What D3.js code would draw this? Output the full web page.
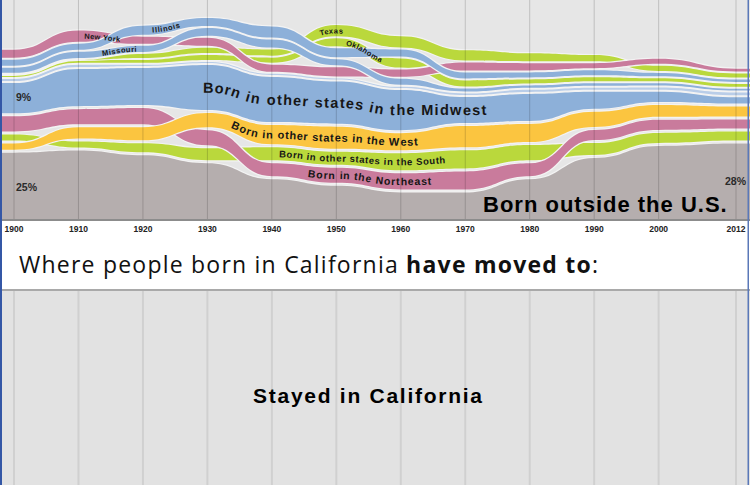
<!DOCTYPE html>
<html>
<head>
<meta charset="utf-8">
<script src="https://cdn.jsdelivr.net/npm/d3@7"></script>
<style>
body{margin:0;background:#fff;}
svg{display:block;}
</style>
</head>
<body>
<div id="chart"></div>
<script>
var years=[1900,1910,1920,1930,1940,1950,1960,1970,1980,1990,2000,2012];

// share of California residents (%) by place of birth
var foreignBorn=[25,25.8,24,21,15,12.5,10,10,15,23,27.5,28.4];
var westBorn=[2.3,4.2,4.9,5.3,7.2,8.3,6.4,8,6.8,5.7,4.5,3.8];
var southBorn=[2.3,2.3,3.4,4.5,4.9,4.9,6.4,6.8,5.7,4.5,3.8,3.4];
var northeastBorn=[5.7,5.7,6.1,5.7,4.9,5.7,6.1,6.8,4.9,3.8,3.8,3.4];
var midwestBorn=[11.4,14,14,17,17,15.9,15.2,9.8,10.2,6.4,3.8,2.3];
var newYorkBorn=[3,4.2,2.7,3,2.7,3.4,2.7,3,2.7,1.9,1.9,1.1];
var illinoisBorn=[2.3,2.3,3.4,3,4.2,3.4,2.7,2.3,1.9,1.9,1.3,0.9];
var missouriBorn=[1.9,2.3,2.3,3,3,2.3,2.3,1.1,0.9,0.9,0.8,0.6];
var texasBorn=[0,0,1.5,1.9,2.3,4.2,4.2,3.8,3,2.3,1.9,1.5];
var oklahomaBorn=[0.8,1.1,1.1,1.9,1.9,3,3.4,2.3,1.5,1.5,1.1,1.1];
var iowaBorn=[0.8,0.8,0.4,0.4,0.4,0.4,0.4,0.6,0.8,0.8,0.9,1.1];

// stacking order, bottom to top, for each year
var stackOrder=[
  ["foreign","west","south","northeast","midwest","iowa","oklahoma","texas","missouri","illinois","newYork"],
  ["foreign","south","west","northeast","midwest","iowa","oklahoma","texas","missouri","illinois","newYork"],
  ["foreign","south","west","northeast","midwest","iowa","oklahoma","texas","missouri","newYork","illinois"],
  ["foreign","south","northeast","west","midwest","iowa","oklahoma","texas","newYork","missouri","illinois"],
  ["foreign","northeast","south","west","midwest","iowa","newYork","oklahoma","texas","missouri","illinois"],
  ["foreign","northeast","south","west","midwest","iowa","newYork","missouri","illinois","oklahoma","texas"],
  ["foreign","northeast","south","west","midwest","iowa","missouri","newYork","oklahoma","illinois","texas"],
  ["foreign","northeast","south","west","midwest","iowa","missouri","oklahoma","illinois","newYork","texas"],
  ["foreign","northeast","south","west","midwest","iowa","missouri","oklahoma","illinois","newYork","texas"],
  ["foreign","south","northeast","west","midwest","iowa","missouri","oklahoma","illinois","newYork","texas"],
  ["foreign","south","northeast","west","midwest","iowa","missouri","oklahoma","illinois","texas","newYork"],
  ["foreign","south","northeast","west","midwest","iowa","missouri","oklahoma","illinois","texas","newYork"]
];

// where people born in California live now (%)
var stayedYears=[1900,2012];
var stayedShare=[91,75];

var seriesValues={foreign:foreignBorn,west:westBorn,south:southBorn,northeast:northeastBorn,
  midwest:midwestBorn,newYork:newYorkBorn,illinois:illinoisBorn,missouri:missouriBorn,
  texas:texasBorn,oklahoma:oklahomaBorn,iowa:iowaBorn};
var stateKeys=["newYork","illinois","missouri","texas","oklahoma","iowa"];
var drawOrder=["foreign","south","northeast","west","midwest","iowa","oklahoma","texas","newYork","missouri","illinois"];
var colors={foreign:"#b5aeae",west:"#fbc540",south:"#bad83c",northeast:"#c97b9c",midwest:"#8db0d9",
  newYork:"#c97b9c",illinois:"#8db0d9",missouri:"#8db0d9",texas:"#bad83c",oklahoma:"#bad83c",iowa:"#b9cde8"};

var w=750,h=485;
var topH=219;
var svg=d3.select("#chart").append("svg").attr("width",w).attr("height",h)
  .style("font-family","'Liberation Sans',Arial,sans-serif");

var xScale=d3.scaleLinear().domain([1900,2012]).range([14,736]);
var yScale=d3.scaleLinear().domain([0,82.5]).range([topH,0]);
var pxPerPct=topH/82.5;

//compute stacked positions
var pos={};
Object.keys(seriesValues).forEach(function(k){pos[k]=[];});
years.forEach(function(yr,i){
  var cum=0;
  stackOrder[i].forEach(function(k){
    var v=seriesValues[k][i];
    if(cum>0 && v>0) cum+=(stateKeys.indexOf(k)>=0?2:3)/pxPerPct;
    pos[k][i]=[cum,cum+v];
    cum+=v;
  });
});

function ribbonPoints(k){
  var pts=years.map(function(yr,i){return {x:xScale(yr),y0:yScale(pos[k][i][0]),y1:yScale(pos[k][i][1])};});
  pts.unshift({x:0,y0:pts[0].y0,y1:pts[0].y1});
  pts.push({x:w,y0:pts[pts.length-1].y0,y1:pts[pts.length-1].y1});
  return pts;
}

var defs=svg.append("defs");
defs.append("clipPath").attr("id","topClip").append("rect").attr("x",0).attr("y",0).attr("width",w).attr("height",topH);

//top panel
svg.append("rect").attr("x",0).attr("y",0).attr("width",w).attr("height",topH).attr("fill","#e6e6e6");

var area=d3.area().x(function(d){return d.x;}).y0(function(d){return d.y0;}).y1(function(d){return d.y1;}).curve(d3.curveBumpX);
var centerLine=d3.line().x(function(d){return d.x;}).y(function(d){return (d.y0+d.y1)/2;}).curve(d3.curveBumpX);

var ribbons=svg.append("g").attr("clip-path","url(#topClip)");
drawOrder.forEach(function(k){
  var pts=ribbonPoints(k);
  ribbons.append("path")
    .attr("d",area(pts))
    .attr("fill",colors[k])
    .attr("stroke","#f3f3f3")
    .attr("stroke-width",2.4)
    .attr("stroke-linejoin","round")
    .attr("paint-order","stroke");
  defs.append("path").attr("id","center-"+k).attr("d",centerLine(pts));
});

//grid lines over the ribbons
ribbons.append("g").selectAll("line").data(years).enter().append("line")
  .attr("x1",function(d){return xScale(d);}).attr("x2",function(d){return xScale(d);})
  .attr("y1",0).attr("y2",topH)
  .attr("stroke","#000").attr("stroke-opacity",0.17).attr("stroke-width",1);

//ribbon labels along the ribbons
var ribbonLabels=[
  {k:"midwest",text:"Born in other states in the Midwest",x:203,size:14.5,ls:1.3},
  {k:"west",text:"Born in other states in the West",x:232,size:11,ls:0.7},
  {k:"south",text:"Born in other states in the South",x:279,size:9.5,ls:0.6},
  {k:"northeast",text:"Born in the Northeast",x:308,size:10.5,ls:0.8},
  {k:"newYork",text:"New York",x:84,size:7.5,ls:0.4},
  {k:"illinois",text:"Illinois",x:152,size:7.5,ls:0.6},
  {k:"missouri",text:"Missouri",x:102,size:7.5,ls:0.6},
  {k:"texas",text:"Texas",x:320,size:7.5,ls:0.5},
  {k:"oklahoma",text:"Oklahoma",x:346,size:7.5,ls:0.5}
];
function offsetForX(node,tx){
  var lo=0,hi=node.getTotalLength();
  for(var n=0;n<30;n++){
    var mid=(lo+hi)/2;
    if(node.getPointAtLength(mid).x<tx) lo=mid; else hi=mid;
  }
  return lo;
}
ribbonLabels.forEach(function(l){
  var node=document.getElementById("center-"+l.k);
  svg.append("text")
    .attr("font-size",l.size)
    .attr("font-weight","bold")
    .attr("letter-spacing",l.ls)
    .attr("fill","#161616")
    .attr("dy","0.36em")
    .append("textPath")
    .attr("href","#center-"+l.k)
    .attr("startOffset",offsetForX(node,l.x))
    .text(l.text);
});

svg.append("text").attr("x",483).attr("y",212).attr("font-size",22).attr("font-weight","bold")
  .attr("letter-spacing",1).attr("fill","#000")
  .text("Born outside the U.S.");

//end value labels
var endLabels=[
  {text:"9%",x:16,y:101,anchor:"start"},
  {text:"25%",x:16,y:191,anchor:"start"},
  {text:"28%",x:746,y:185,anchor:"end"},
  {text:"91%",x:16,y:401,anchor:"start"},
  {text:"75%",x:745,y:401,anchor:"end"}
];
svg.append("g").selectAll("text").data(endLabels).enter().append("text")
  .attr("x",function(d){return d.x;}).attr("y",function(d){return d.y;})
  .attr("text-anchor",function(d){return d.anchor;})
  .attr("font-size",10.5).attr("font-weight","bold").attr("fill","#2a2a2a")
  .text(function(d){return d.text;});

//axis line and year labels
svg.append("rect").attr("x",0).attr("y",topH).attr("width",w).attr("height",2).attr("fill","#8c8c8c");
svg.append("g").selectAll("text").data(years).enter().append("text")
  .attr("x",function(d){return xScale(d);})
  .attr("y",232)
  .attr("text-anchor","middle")
  .attr("font-size",8.5).attr("font-weight","bold").attr("fill","#222")
  .text(function(d){return d;});

//title of lower panel
var title=svg.append("text").attr("x",19).attr("y",273).attr("font-size",23)
  .attr("font-family","'Open Sans',sans-serif").attr("fill","#111")
  .attr("textLength",579).attr("lengthAdjust","spacing");
title.append("tspan").text("Where people born in California ");
title.append("tspan").attr("font-weight","bold").text("have moved to");
title.append("tspan").text(":");

//lower panel
var botTop=291;
defs.append("clipPath").attr("id","botClip").append("rect").attr("x",0).attr("y",botTop).attr("width",w).attr("height",h-botTop);
svg.append("rect").attr("x",0).attr("y",botTop-2).attr("width",w).attr("height",2).attr("fill","#a9a9a9");
svg.append("rect").attr("x",0).attr("y",botTop).attr("width",w).attr("height",h-botTop).attr("fill","#e6e6e6");
var yBot=d3.scaleLinear().domain([0,100]).range([botTop-5,botTop-5+topH/82.5*100]);
var stayedPts=stayedYears.map(function(yr,i){return {x:xScale(yr),v:stayedShare[i]};});
stayedPts.unshift({x:0,v:stayedShare[0]});
stayedPts.push({x:w,v:stayedShare[stayedShare.length-1]});
svg.append("path").attr("clip-path","url(#botClip)")
  .attr("d",d3.area().x(function(d){return d.x;}).y0(yBot(0)).y1(function(d){return yBot(d.v);}).curve(d3.curveBumpX)(stayedPts))
  .attr("fill","#e2e2e2");
svg.append("g").selectAll("line").data(years).enter().append("line")
  .attr("x1",function(d){return xScale(d);}).attr("x2",function(d){return xScale(d);})
  .attr("y1",botTop).attr("y2",h)
  .attr("stroke","#d0d0d0").attr("stroke-width",2);
svg.append("text").attr("x",253).attr("y",403).attr("font-size",21).attr("font-weight","bold")
  .attr("textLength",229).attr("lengthAdjust","spacing").attr("fill","#000")
  .text("Stayed in California");

//frame edges
svg.append("rect").attr("x",0).attr("y",0).attr("width",2).attr("height",h).attr("fill","#3457a6");
svg.append("rect").attr("x",747.5).attr("y",0).attr("width",1.5).attr("height",h).attr("fill","#5a78b8");
</script>
</body>
</html>
